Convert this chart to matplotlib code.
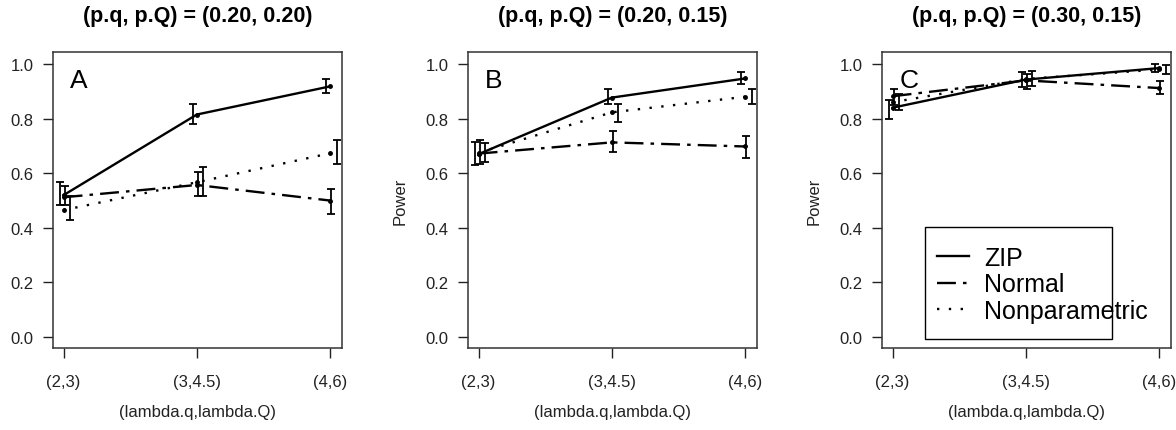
import numpy as np
import matplotlib
matplotlib.use('Agg')
from matplotlib import pyplot as plt
from matplotlib.patches import Rectangle

plt.rcParams['font.family'] = ['Liberation Sans', 'DejaVu Sans']

xlabels = ['(2,3)', '(3,4.5)', '(4,6)']
titles = ['(p.q, p.Q) = (0.20, 0.20)', '(p.q, p.Q) = (0.20, 0.15)', '(p.q, p.Q) = (0.30, 0.15)']
letters = ['A', 'B', 'C']
methods = ['ZIP', 'Normal', 'Nonparametric']

# power estimates, one row per panel
zip_pow = [[0.52, 0.815, 0.918], [0.67, 0.877, 0.947], [0.84, 0.943, 0.985]]
normal_pow = [[0.512, 0.557, 0.50], [0.672, 0.713, 0.698], [0.882, 0.94, 0.912]]
nonpar_pow = [[0.465, 0.567, 0.673], [0.675, 0.823, 0.88], [0.86, 0.945, 0.98]]

# confidence limits (low, high)
zip_lo = [[0.484, 0.78, 0.893], [0.63, 0.853, 0.927], [0.80, 0.915, 0.97]]
zip_hi = [[0.567, 0.854, 0.945], [0.715, 0.908, 0.97], [0.87, 0.97, 1.0]]
normal_lo = [[0.482, 0.518, 0.451], [0.635, 0.676, 0.654], [0.85, 0.91, 0.89]]
normal_hi = [[0.555, 0.604, 0.543], [0.72, 0.755, 0.737], [0.91, 0.965, 0.937]]
nonpar_lo = [[0.43, 0.518, 0.634], [0.64, 0.786, 0.853], [0.83, 0.92, 0.965]]
nonpar_hi = [[0.515, 0.622, 0.72], [0.71, 0.853, 0.91], [0.89, 0.975, 0.995]]

pows = [zip_pow, normal_pow, nonpar_pow]
los = [zip_lo, normal_lo, nonpar_lo]
his = [zip_hi, normal_hi, nonpar_hi]
styles = ['-', (0, (8, 3, 1.5, 3)), (0, (1, 4))]
offsets = [-0.03, 0.01, 0.05]

fig = plt.figure(figsize=(11.76, 4.31), dpi=100)
lefts = [53, 468, 882]
x = np.arange(1, 4)

for p in range(3):
    ax = fig.add_axes([lefts[p] / 1176, (431 - 349) / 431, 289 / 1176, 296 / 431])
    for m in range(3):
        y = np.array(pows[m][p])
        ax.plot(x, y, color='black', lw=1.7, linestyle=styles[m], label=methods[m])
        ax.plot(x, y, 'o', color='black', ms=2.5)
        lo = y - np.array(los[m][p])
        hi = np.array(his[m][p]) - y
        ax.errorbar(x + offsets[m], y, yerr=[lo, hi], fmt='none', ecolor='black',
                    elinewidth=1.3, capsize=3, capthick=1.3)
    ax.set_xlim(0.92, 3.09)
    ax.set_ylim(-0.04, 1.044)
    ax.set_xticks(x)
    ax.set_xticklabels(xlabels)
    ax.set_yticks(np.arange(0, 1.01, 0.2))
    ax.set_yticklabels(['%.1f' % v for v in np.arange(0, 1.01, 0.2)])
    ax.tick_params(direction='out', length=7, width=1, labelsize=12, colors='#222222', pad=7)
    ax.tick_params(axis='x', pad=12)
    for s in ax.spines.values():
        s.set_linewidth(1.1)
        s.set_color('#333333')
    ax.text(0.5, -0.216, '(lambda.q,lambda.Q)', transform=ax.transAxes, fontsize=12,
            ha='center', va='center', color='#222222')
    if p > 0:
        ax.text(-0.235, 0.5, 'Power', transform=ax.transAxes, fontsize=12, rotation=90,
                ha='center', va='center', color='#222222')
    ax.set_title(titles[p], fontsize=15.5, fontweight='bold', pad=22)
    ax.text(0.06, 0.945, letters[p], transform=ax.transAxes, fontsize=19, va='top', ha='left')
    if p == 2:
        # R-style legend box: text runs past the frame
        ax.add_patch(Rectangle((0.149, 0.03), 0.647, 0.38, transform=ax.transAxes,
                               fill=False, edgecolor='black', lw=1.0))
        ax.legend(loc='center left', bbox_to_anchor=(0.19, 0.215), fontsize=18,
                  frameon=False, handlelength=1.3, labelspacing=0.1, handletextpad=0.6,
                  borderpad=0, borderaxespad=0)

fig.savefig('out.png', dpi=100)
